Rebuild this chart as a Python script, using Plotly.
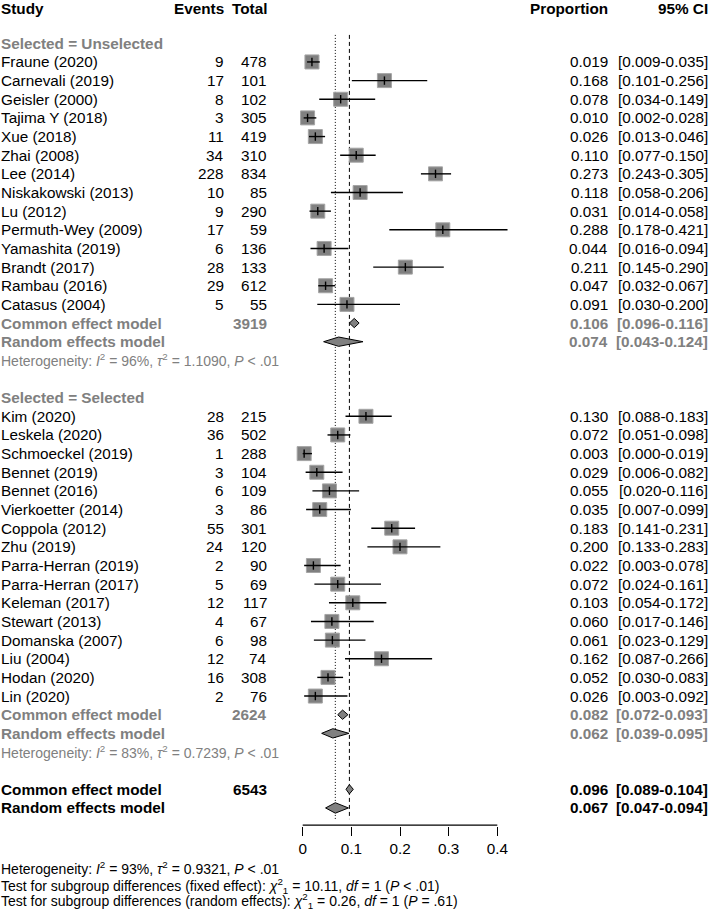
import plotly.graph_objects as go

# ---- values ----
unsel_study = ["Fraune (2020)", "Carnevali (2019)", "Geisler (2000)", "Tajima Y (2018)",
               "Xue (2018)", "Zhai (2008)", "Lee (2014)", "Niskakowski (2013)", "Lu (2012)",
               "Permuth-Wey (2009)", "Yamashita (2019)", "Brandt (2017)", "Rambau (2016)",
               "Catasus (2004)"]
unsel_events = [9, 17, 8, 3, 11, 34, 228, 10, 9, 17, 6, 28, 29, 5]
unsel_total = [478, 101, 102, 305, 419, 310, 834, 85, 290, 59, 136, 133, 612, 55]
unsel_prop = [0.019, 0.168, 0.078, 0.010, 0.026, 0.110, 0.273, 0.118, 0.031, 0.288,
              0.044, 0.211, 0.047, 0.091]
unsel_lo = [0.009, 0.101, 0.034, 0.002, 0.013, 0.077, 0.243, 0.058, 0.014, 0.178,
            0.016, 0.145, 0.032, 0.030]
unsel_hi = [0.035, 0.256, 0.149, 0.028, 0.046, 0.150, 0.305, 0.206, 0.058, 0.421,
            0.094, 0.290, 0.067, 0.200]

sel_study = ["Kim (2020)", "Leskela (2020)", "Schmoeckel (2019)", "Bennet (2019)",
             "Bennet (2016)", "Vierkoetter (2014)", "Coppola (2012)", "Zhu (2019)",
             "Parra-Herran (2019)", "Parra-Herran (2017)", "Keleman (2017)", "Stewart (2013)",
             "Domanska (2007)", "Liu (2004)", "Hodan (2020)", "Lin (2020)"]
sel_events = [28, 36, 1, 3, 6, 3, 55, 24, 2, 5, 12, 4, 6, 12, 16, 2]
sel_total = [215, 502, 288, 104, 109, 86, 301, 120, 90, 69, 117, 67, 98, 74, 308, 76]
sel_prop = [0.130, 0.072, 0.003, 0.029, 0.055, 0.035, 0.183, 0.200, 0.022, 0.072,
            0.103, 0.060, 0.061, 0.162, 0.052, 0.026]
sel_lo = [0.088, 0.051, 0.000, 0.006, 0.020, 0.007, 0.141, 0.133, 0.003, 0.024,
          0.054, 0.017, 0.023, 0.087, 0.030, 0.003]
sel_hi = [0.183, 0.098, 0.019, 0.082, 0.116, 0.099, 0.231, 0.283, 0.078, 0.161,
          0.172, 0.146, 0.129, 0.266, 0.083, 0.092]

# summaries: [estimate, lower, upper]
unsel_common = [0.106, 0.096, 0.116]
unsel_random = [0.074, 0.043, 0.124]
sel_common = [0.082, 0.072, 0.093]
sel_random = [0.062, 0.039, 0.095]
all_common = [0.096, 0.089, 0.104]
all_random = [0.067, 0.047, 0.094]
unsel_n, sel_n, all_n = 3919, 2624, 6543

unsel_het = "Heterogeneity: <i>I</i><sup>2</sup> = 96%, <i>τ</i><sup>2</sup> = 1.1090, <i>P</i> < .01"
sel_het = "Heterogeneity: <i>I</i><sup>2</sup> = 83%, <i>τ</i><sup>2</sup> = 0.7239, <i>P</i> < .01"
footer = [
    "Heterogeneity: <i>I</i><sup>2</sup> = 93%, <i>τ</i><sup>2</sup> = 0.9321, <i>P</i> < .01",
    "Test for subgroup differences (fixed effect): <i>χ</i><sup>2</sup><sub>1</sub> = 10.11, <i>df</i> = 1 (<i>P</i> < .01)",
    "Test for subgroup differences (random effects): <i>χ</i><sup>2</sup><sub>1</sub> = 0.26, <i>df</i> = 1 (<i>P</i> = .61)",
]
xticks = [0, 0.1, 0.2, 0.3, 0.4]

# ---- layout geometry (pixels) ----
W, H = 709, 910
X0, XSCALE = 302.7, 486.5          # pixel of 0 and pixels per unit
ROW0, ROWH = 6, 18.65              # pixel of row 0 and row height
AXIS_PX = 826                      # bottom of plotting area = axis position
FONT = "Liberation Sans, Arial, Helvetica, sans-serif"
GREY = "#808080"
FS, FS_SMALL = 15.3, 14
PAD = 2.5                          # annotation inner padding

COL_STUDY, COL_EV, COL_TOT, COL_PROP, COL_CI = 1, 223, 266, 607.7, 707.7
FOOTER_PX = [868, 885.5, 900.5]

fig = go.Figure()
ann = []


def text(px, row, s, anchor="left", color="black", bold=False, size=FS, paper_y=None):
    if bold:
        s = "<b>" + s + "</b>"
    px = px - PAD if anchor == "left" else px + PAD
    a = dict(x=px / W, xref="paper", text=s, showarrow=False,
             xanchor=anchor, yanchor="middle", font=dict(size=size, color=color))
    if paper_y is None:
        a.update(y=row, yref="y")
    else:
        a.update(y=paper_y, yref="paper")
    ann.append(a)


def ci_text(row, vals, color="black", bold=False):
    text(COL_PROP, row, "%.3f" % vals[0], "right", color, bold)
    text(COL_CI, row, "[%.3f-%.3f]" % (vals[1], vals[2]), "right", color, bold)


def diamond(vals, row, h=0.25):
    est, lo, hi = vals
    fig.add_trace(go.Scatter(x=[lo, est, hi, est, lo], y=[row, row - h, row, row + h, row],
                             mode="lines", fill="toself", fillcolor=GREY,
                             line=dict(color="black", width=1), hoverinfo="skip"))


# header
text(COL_STUDY, 0.12, "Study", bold=True)
text(COL_EV, 0.12, "Events", "right", bold=True)
text(COL_TOT, 0.12, "Total", "right", bold=True)
text(COL_PROP, 0.12, "Proportion", "right", bold=True)
text(COL_CI, 0.12, "95% CI", "right", bold=True)

groups = [
    ("Selected = Unselected", 2, unsel_study, unsel_events, unsel_total, unsel_prop, unsel_lo,
     unsel_hi, unsel_common, unsel_random, unsel_n, unsel_het),
    ("Selected = Selected", 21, sel_study, sel_events, sel_total, sel_prop, sel_lo,
     sel_hi, sel_common, sel_random, sel_n, sel_het),
]

# reference lines (overall random: dotted, overall common: dashed)
fig.add_trace(go.Scatter(x=[all_random[0]] * 2, y=[1.55, 43.6], mode="lines",
                         line=dict(color="black", width=1, dash="1px,2px"), hoverinfo="skip"))
fig.add_trace(go.Scatter(x=[all_common[0]] * 2, y=[1.55, 43.6], mode="lines",
                         line=dict(color="black", width=1, dash="4px,3px"), hoverinfo="skip"))

for label, start, study, ev, tot, prop, lo, hi, com, ran, n, het in groups:
    text(COL_STUDY, start, label, color=GREY, bold=True)
    rows = [start + 1 + i for i in range(len(study))]
    for r, s, e, t, p, l, h in zip(rows, study, ev, tot, prop, lo, hi):
        text(COL_STUDY, r, s)
        text(COL_EV, r, str(e), "right")
        text(COL_TOT, r, str(t), "right")
        ci_text(r, [p, l, h])
    fig.add_trace(go.Scatter(x=prop, y=rows, mode="markers",
                             marker=dict(symbol="square", size=14, color=GREY,
                                         line=dict(color="#a5a5a5", width=1)),
                             hoverinfo="skip"))
    xs, ys = [], []
    for r, l, h in zip(rows, lo, hi):
        xs += [l, h, None]
        ys += [r, r, None]
    fig.add_trace(go.Scatter(x=xs, y=ys, mode="lines", line=dict(color="black", width=1.4),
                             hoverinfo="skip"))
    fig.add_trace(go.Scatter(x=prop, y=rows, mode="markers",
                             marker=dict(symbol="line-ns", size=6,
                                         line=dict(color="black", width=1.4)),
                             hoverinfo="skip"))
    rc = rows[-1] + 1
    text(COL_STUDY, rc, "Common effect model", color=GREY, bold=True)
    text(COL_TOT, rc, str(n), "right", color=GREY, bold=True)
    ci_text(rc, com, GREY, True)
    diamond(com, rc)
    text(COL_STUDY, rc + 1, "Random effects model", color=GREY, bold=True)
    ci_text(rc + 1, ran, GREY, True)
    diamond(ran, rc + 1)
    text(COL_STUDY, rc + 2, het, color=GREY, size=FS_SMALL)

# overall
text(COL_STUDY, 42, "Common effect model", bold=True)
text(COL_TOT, 42, str(all_n), "right", bold=True)
ci_text(42, all_common, bold=True)
diamond(all_common, 42)
text(COL_STUDY, 43, "Random effects model", bold=True)
ci_text(43, all_random, bold=True)
diamond(all_random, 43, h=0.28)

for s, fpx in zip(footer, FOOTER_PX):
    text(COL_STUDY, None, s, size=FS_SMALL, paper_y=1 - fpx / H)

# axis line between the first and last tick
axis_row = (AXIS_PX - 0.8 - ROW0) / ROWH
fig.add_trace(go.Scatter(x=[xticks[0], xticks[-1]], y=[axis_row, axis_row], mode="lines",
                         line=dict(color="black", width=1.3), hoverinfo="skip"))

fig.update_layout(
    width=W, height=H, margin=dict(l=0, r=0, t=0, b=0),
    plot_bgcolor="rgba(0,0,0,0)", paper_bgcolor="white", showlegend=False,
    font=dict(family=FONT, size=FS, color="black"),
    annotations=ann,
    xaxis=dict(range=[-X0 / XSCALE, (W - X0) / XSCALE], showline=False, showgrid=False,
               zeroline=False, ticks="outside", ticklen=9, tickwidth=1.3, tickcolor="black",
               tickvals=xticks, ticktext=[("%g" % v) for v in xticks],
               tickfont=dict(size=FS), fixedrange=True),
    yaxis=dict(domain=[1 - AXIS_PX / H, 1], range=[(AXIS_PX - ROW0) / ROWH, -ROW0 / ROWH],
               visible=False, fixedrange=True),
)

fig.write_html("out.html", config={"displayModeBar": False},
               post_script="document.body.style.margin='0';")
